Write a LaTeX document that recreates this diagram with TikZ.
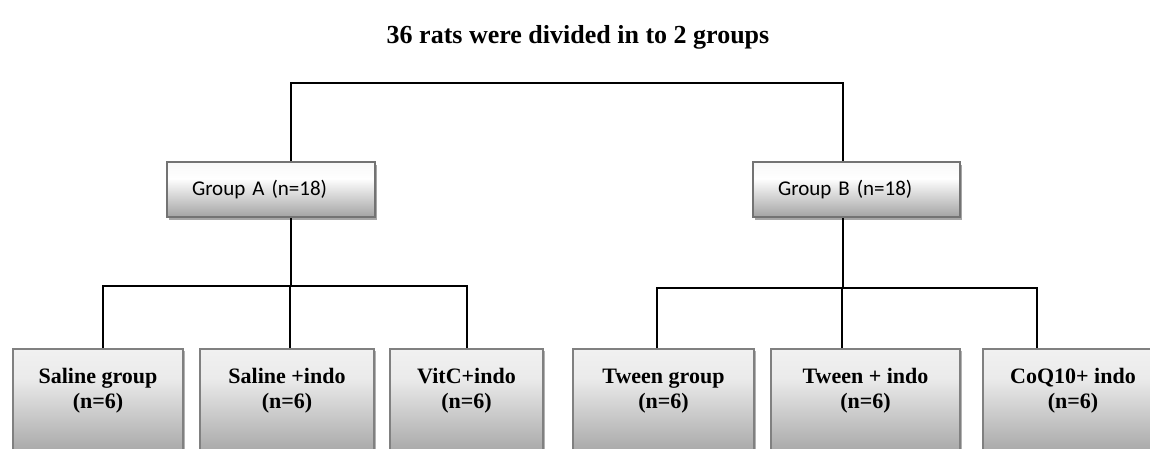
\documentclass[tikz,border=0pt]{standalone}
\usepackage{fontspec}
\setmainfont{Liberation Serif}
\newfontfamily\boxfont{Carlito}
\usetikzlibrary{shadows}
\pgfdeclareverticalshading{grpshade}{100bp}{color(0bp)=(black!48); color(25bp)=(black!36); color(60bp)=(white); color(80bp)=(black!4); color(100bp)=(black!16)}
\pgfdeclareverticalshading{subshade}{100bp}{color(0bp)=(black!50); color(25bp)=(black!38); color(62bp)=(black!8); color(88bp)=(black!3); color(100bp)=(black!10)}
\tikzset{
  grpbox/.style={draw=black!55, line width=2pt, shading=grpshade, rectangle,
    drop shadow={shadow xshift=2pt, shadow yshift=-3pt, opacity=0.35, fill=black},
    minimum height=55pt, inner xsep=25pt, align=left, font=\boxfont\fontsize{21}{24}\selectfont},
  subbox/.style={draw=black!50, line width=2pt, shading=subshade, rectangle,
    drop shadow={shadow xshift=2pt, shadow yshift=-2pt, opacity=0.3, fill=black},
    minimum height=114pt},
  sublbl/.style={align=center, font=\bfseries\fontsize{22}{25}\selectfont, inner sep=0pt},
  link/.style={draw=black, line width=1.5pt}
}
\begin{document}
\begin{tikzpicture}[x=1pt,y=1pt]
\useasboundingbox (0,0) rectangle (1150,448);
\clip (0,0) rectangle (1150,448);
\fill[white] (0,0) rectangle (1150,448);

\node[font=\bfseries\fontsize{26}{30}\selectfont, inner sep=0pt] (title) at (578,411) {36 rats were divided in to 2 groups};

\node[grpbox, minimum width=208pt, text width=158pt] (ga) at (271,258.5) {Group A (n=18)};
\node[grpbox, minimum width=207pt, text width=157pt] (gb) at (856.5,258.5) {Group B (n=18)};

\coordinate (aX) at (291,0);
\coordinate (bX) at (843,0);
\coordinate (top) at (0,365);
\coordinate (hA) at (0,162);
\coordinate (hB) at (0,160);

\draw[link] (ga.north -| aX) -- (aX |- top) -- (bX |- top) -- (gb.north -| bX);

\node[subbox, minimum width=170pt] (a1) at (98,42) {};
\node[subbox, minimum width=174pt] (a2) at (287,42) {};
\node[subbox, minimum width=153pt] (a3) at (466.5,42) {};
\node[subbox, minimum width=181pt] (b1) at (663.5,42) {};
\node[subbox, minimum width=189pt] (b2) at (865.5,42) {};
\node[subbox, minimum width=180pt] (b3) at (1073,42) {};

\node[sublbl] (a1t) at (98,57) {Saline group\\(n=6)};
\node[sublbl] (a2t) at (287,57) {Saline +indo\\(n=6)};
\node[sublbl] (a3t) at (466.5,57) {VitC+indo\\(n=6)};
\node[sublbl] (b1t) at (663.5,57) {Tween group\\(n=6)};
\node[sublbl] (b2t) at (865.5,57) {Tween + indo\\(n=6)};
\node[sublbl] (b3t) at (1073,57) {CoQ10+ indo\\(n=6)};

\coordinate (a1X) at (103,0);
\coordinate (a2X) at (290,0);
\coordinate (a3X) at (467,0);
\coordinate (b1X) at (657,0);
\coordinate (b2X) at (842,0);
\coordinate (b3X) at (1037,0);

\draw[link] (ga.south -| aX) -- (aX |- hA);
\draw[link] (a1.north -| a1X) -- (a1X |- hA) -- (a3X |- hA) -- (a3.north -| a3X);
\draw[link] (a2X |- hA) -- (a2.north -| a2X);

\draw[link] (gb.south -| bX) -- (bX |- hB);
\draw[link] (b1.north -| b1X) -- (b1X |- hB) -- (b3X |- hB) -- (b3.north -| b3X);
\draw[link] (b2X |- hB) -- (b2.north -| b2X);
\end{tikzpicture}
\end{document}
